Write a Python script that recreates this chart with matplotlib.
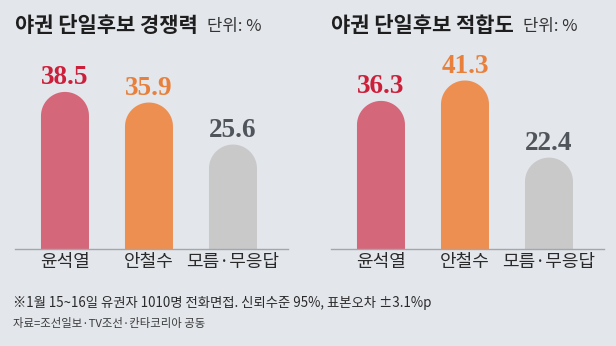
import matplotlib
matplotlib.use("Agg")
import matplotlib.pyplot as plt
from matplotlib.patches import Polygon
import numpy as np

plt.rcParams['font.family'] = ['Noto Sans CJK KR', 'DejaVu Sans']

categories = ["윤석열", "안철수", "모름·무응답"]
competitiveness = [38.5, 35.9, 25.6]
suitability = [36.3, 41.3, 22.4]
titles = ["야권 단일후보 경쟁력", "야권 단일후보 적합도"]
unit_label = "단위: %"
note1 = "※1월 15~16일 유권자 1010명 전화면접. 신뢰수준 95%, 표본오차 ±3.1%p"
note2 = "자료=조선일보·TV조선·칸타코리아 공동"

bg = "#e3e6eb"
bar_colors = ["#d5677a", "#ee8f52", "#c9c9c9"]
label_colors = ["#cc1f3a", "#e8803c", "#50555c"]

W, H = 616, 346
fig = plt.figure(figsize=(W / 100, H / 100), dpi=100, facecolor=bg)

def px_axes(x0, x1, y_top, y_bot):
    return fig.add_axes([x0 / W, 1 - y_bot / H, (x1 - x0) / W, (y_bot - y_top) / H])

panels = [(15, 288, competitiveness, titles[0], 15, 207),
          (331, 604, suitability, titles[1], 331, 523)]

ylim_top = 50.0
base_px = 249
px_per_unit = 4.08
top_px = base_px - ylim_top * px_per_unit

for (x0, x1, vals, title, tx, ux) in panels:
    ax = px_axes(x0, x1, top_px, base_px)
    ax.set_facecolor(bg)
    ax.set_xlim(-0.595, 2.655)
    ax.set_ylim(0, ylim_top)
    ax.axis('off')
    xpx = (x1 - x0) / (2.655 + 0.595)
    ypx = px_per_unit
    bw = 48 / xpx
    rx = bw / 2
    ry = rx * xpx / ypx
    for i, v in enumerate(vals):
        t = np.linspace(0, np.pi, 60)
        xs = list(i + rx * np.cos(t)) + [i - rx, i + rx]
        ys = list((v - ry) + ry * np.sin(t)) + [0, 0]
        ax.add_patch(Polygon(np.column_stack([xs, ys]), closed=True,
                             facecolor=bar_colors[i], edgecolor='none'))
        ax.annotate(f"{v:.1f}", xy=(i, v), xytext=(0, 5.5), textcoords='offset points',
                    ha='center', va='baseline', fontsize=19.5, fontweight='bold',
                    family='Liberation Serif', color=label_colors[i],
                    annotation_clip=False)
        ax.annotate(categories[i], xy=(i, 0), xytext=(0, -9.5), textcoords='offset points',
                    ha='center', va='center', fontsize=13, color='#2a2a2a',
                    annotation_clip=False)
    ax.axhline(0, color='#a3a7ad', lw=1.0, clip_on=False)
    fig.text(tx / W, 1 - 26 / H, title, ha='left', va='center', fontsize=15.1,
             fontweight='bold', color='#1e1e1e')
    fig.text(ux / W, 1 - 27 / H, unit_label, ha='left', va='center', fontsize=12,
             color='#333333')

fig.text(13 / W, 1 - 303 / H, note1, ha='left', va='center', fontsize=9.6, color='#2a2a2a')
fig.text(13 / W, 1 - 323 / H, note2, ha='left', va='center', fontsize=8.2, color='#3a3a3a')

fig.savefig("out.png", dpi=100, facecolor=bg)
